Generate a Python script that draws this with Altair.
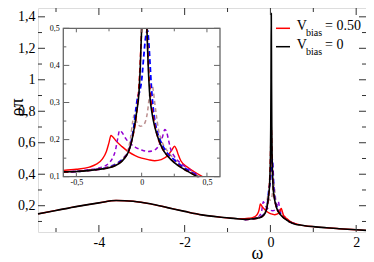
import altair as alt
import pandas as pd

# ---------------- data ----------------
# shared broad background (lower Hubbard band) outside the Kondo region
bg_left_w = [-5.42, -5.0, -4.5, -4.0, -3.6, -3.2, -2.8, -2.4, -2.0, -1.6, -1.2, -0.8]
bg_left_v = [0.148, 0.170, 0.196, 0.218, 0.233, 0.228, 0.212, 0.188, 0.164, 0.142, 0.128, 0.118]
bg_right_w = [0.7, 0.8, 1.0, 1.3, 1.6, 2.0, 2.37]
bg_right_v = [0.077, 0.073, 0.067, 0.060, 0.054, 0.047, 0.041]

black_w = [-0.6, -0.5, -0.4, -0.3, -0.25, -0.2, -0.15, -0.12, -0.1, -0.08, -0.06, -0.04, -0.02, -0.01,
           0.0, 0.008, 0.014, 0.02, 0.026, 0.032, 0.04, 0.05, 0.06, 0.08, 0.1, 0.13, 0.16, 0.2, 0.25,
           0.3, 0.35, 0.4, 0.43, 0.45, 0.5, 0.6]
black_v = [0.113, 0.114, 0.117, 0.121, 0.124, 0.13, 0.142, 0.155, 0.168, 0.19, 0.225, 0.27, 0.33, 0.4,
           0.5, 0.7, 1.0, 1.42, 1.0, 0.7, 0.5, 0.4, 0.33, 0.27, 0.235, 0.2, 0.175, 0.155, 0.138,
           0.125, 0.115, 0.105, 0.1, 0.097, 0.09, 0.081]

red_w = [-0.6, -0.5, -0.4, -0.35, -0.3, -0.27, -0.25, -0.235, -0.22, -0.2, -0.15, -0.1, -0.05, 0.0,
         0.05, 0.1, 0.15, 0.2, 0.23, 0.252, 0.265, 0.28, 0.3, 0.35, 0.4, 0.466, 0.5, 0.6]
red_v = [0.117, 0.12, 0.126, 0.133, 0.148, 0.168, 0.192, 0.211, 0.207, 0.198, 0.181, 0.167, 0.157, 0.15,
         0.146, 0.143, 0.146, 0.157, 0.171, 0.182, 0.175, 0.16, 0.143, 0.126, 0.114, 0.1, 0.094, 0.084]

reddash_w = [-0.6, -0.4, -0.3, -0.2, -0.15, -0.1, -0.07, -0.05, -0.03, -0.015, 0.0, 0.01, 0.02, 0.03,
             0.04, 0.055, 0.07, 0.09, 0.12, 0.16, 0.2, 0.3, 0.4, 0.435, 0.5, 0.6]
reddash_v = [0.112, 0.117, 0.121, 0.131, 0.143, 0.17, 0.205, 0.24, 0.3, 0.38, 0.5, 0.6, 0.7, 0.6,
             0.5, 0.38, 0.31, 0.26, 0.21, 0.175, 0.156, 0.126, 0.106, 0.1, 0.091, 0.082]

blue_w = [-0.6, -0.4, -0.3, -0.2, -0.15, -0.1, -0.08, -0.06, -0.045, -0.03, -0.015, 0.0, 0.015, 0.03,
          0.045, 0.055, 0.065, 0.075, 0.09, 0.11, 0.14, 0.18, 0.25, 0.3, 0.4, 0.44, 0.5, 0.6]
blue_v = [0.112, 0.117, 0.122, 0.133, 0.146, 0.17, 0.195, 0.235, 0.28, 0.315, 0.33, 0.36, 0.42, 0.475,
          0.495, 0.46, 0.4, 0.34, 0.28, 0.235, 0.2, 0.172, 0.145, 0.13, 0.108, 0.1, 0.092, 0.082]

rosy_w = [-0.6, -0.4, -0.3, -0.2, -0.15, -0.12, -0.1, -0.085, -0.07, -0.058, -0.045, -0.03, -0.01, 0.01,
          0.03, 0.045, 0.06, 0.072, 0.08, 0.09, 0.1, 0.115, 0.13, 0.15, 0.2, 0.25, 0.3, 0.4, 0.44, 0.5, 0.6]
rosy_v = [0.112, 0.117, 0.123, 0.135, 0.147, 0.16, 0.178, 0.205, 0.245, 0.266, 0.255, 0.242, 0.236, 0.238,
          0.25, 0.275, 0.32, 0.345, 0.347, 0.33, 0.3, 0.26, 0.225, 0.2, 0.168, 0.148, 0.132, 0.109, 0.1, 0.092, 0.082]

purple_w = [-0.6, -0.5, -0.4, -0.3, -0.25, -0.22, -0.2, -0.185, -0.168, -0.15, -0.12, -0.09, -0.05, 0.0,
            0.05, 0.1, 0.14, 0.16, 0.178, 0.19, 0.205, 0.22, 0.25, 0.3, 0.35, 0.4, 0.445, 0.5, 0.6]
purple_v = [0.113, 0.115, 0.119, 0.126, 0.137, 0.152, 0.172, 0.2, 0.225, 0.219, 0.202, 0.19, 0.18, 0.172,
            0.168, 0.172, 0.19, 0.208, 0.227, 0.222, 0.2, 0.177, 0.155, 0.136, 0.123, 0.111, 0.1, 0.093, 0.083]

main_x_major = [-4, -2, 0, 2]
main_x_minor = [-5, -3, -1, 1]
main_y_major = [0.2, 0.4, 0.6, 0.8, 1.0, 1.2, 1.4]
main_y_minor = [0.1, 0.3, 0.5, 0.7, 0.9, 1.1, 1.3]
inset_x_major = [-0.5, 0, 0.5]
inset_x_minor = [-0.25, 0.25]
inset_y_major = [0.1, 0.2, 0.3, 0.4, 0.5]
inset_y_minor = [0.15, 0.25, 0.35, 0.45]

legend_labels = ["= 0.50", "= 0"]

# ---------------- build table ----------------
rows = []
def add(name, ws, vs):
    for w, v in zip(ws, vs):
        rows.append({"s": name, "omega": w, "v": v})

add("red", bg_left_w + red_w + bg_right_w, bg_left_v + red_v + bg_right_v)
add("black", bg_left_w + black_w + bg_right_w, bg_left_v + black_v + bg_right_v)
add("reddash", reddash_w, reddash_v)
add("blue", blue_w, blue_v)
add("rosy", rosy_w, rosy_v)
add("purple", purple_w, purple_v)
df = pd.DataFrame(rows)

# ---------------- layout / style ----------------
W, H = 328, 224
SERIF = "Liberation Serif, Times New Roman, serif"
FRAME = "#333333"
IL, IR, IT, IB = 25.3, 182.0, 20.3, 168.7   # inset rectangle (plot coords)
INSET_C = "#666666"

XS = alt.Scale(domain=[-5.42, 2.229], nice=False, zero=False)
YS = alt.Scale(domain=[0.033, 1.456], nice=False, zero=False)
IXS = alt.Scale(domain=[-0.6, 0.6], range=[IL, IR], nice=False, zero=False)
IYS = alt.Scale(domain=[0.1, 0.5], range=[IB, IT], nice=False, zero=False)

styles = {
    "purple": ("#9400d3", 1.5, [4, 3]),
    "rosy": ("#bc8f8f", 1.5, [4, 3]),
    "blue": ("#0000ff", 1.8, [5, 3]),
    "reddash": ("#ff0000", 1.6, [5, 3]),
    "red": ("#ff0000", 1.4, None),
    "black": ("#000000", 1.6, None),
}

def line_kw(name):
    color, width, dash = styles[name]
    kw = dict(color=color, strokeWidth=width, interpolate="monotone")
    if dash:
        kw["strokeDash"] = dash
    return kw

one = pd.DataFrame({"k": [0]})
layers = []

# ---------------- main panel ----------------
for name in ["purple", "rosy", "blue", "reddash", "red", "black"]:
    if name == "black":
        xax = alt.Axis(orient="bottom", values=main_x_major, labelExpr="toString(datum.value)",
                       ticks=False, tickSize=0, domain=False, grid=False, labelPadding=3,
                       labelFontSize=14, labelFont=SERIF, labelColor="black", title="ω",
                       titleFont=SERIF, titleFontSize=18, titleFontWeight="normal", titleColor="black",
                       titleX=219, titleY=26, titleBaseline="alphabetic", titleAlign="center",
                       labelFlush=False, labelOverlap=False)
        yax = alt.Axis(orient="left", values=main_y_major,
                       labelExpr="replace(toString(datum.value), '.', ',')",
                       ticks=False, tickSize=0, domain=False, grid=False, labelPadding=3,
                       labelFontSize=14, labelFont=SERIF, labelColor="black", title="ρπ",
                       titleFont=SERIF, titleFontSize=18, titleFontWeight="normal", titleColor="black",
                       titleAngle=270, titleX=-21, titleY=99, titleAlign="center",
                       titleBaseline="middle", labelOverlap=False, labelFlush=False)
    else:
        xax = None
        yax = None
    layers.append(
        alt.Chart(df).transform_filter(alt.datum.s == name).mark_line(**line_kw(name)).encode(
            x=alt.X("omega:Q", scale=XS, axis=xax),
            y=alt.Y("v:Q", scale=YS, axis=yax),
        )
    )

def xticks(vals, scale, y0, length, color, width=1):
    return alt.Chart(pd.DataFrame({"t": vals})).mark_rule(color=color, strokeWidth=width).encode(
        x=alt.X("t:Q", scale=scale, axis=None), y=alt.value(y0), y2=alt.value(y0 + length))

def yticks(vals, scale, x0, length, color, width=1):
    return alt.Chart(pd.DataFrame({"t": vals})).mark_rule(color=color, strokeWidth=width).encode(
        y=alt.Y("t:Q", scale=scale, axis=None), x=alt.value(x0), x2=alt.value(x0 + length))

layers += [
    xticks(main_x_major, XS, H, -7, FRAME), xticks(main_x_minor, XS, H, -4, FRAME),
    xticks(main_x_major, XS, 0, 7, FRAME), xticks(main_x_minor, XS, 0, 4, FRAME),
    yticks(main_y_major, YS, 0, 7, FRAME), yticks(main_y_minor, YS, 0, 4, FRAME),
    yticks(main_y_major, YS, W, -7, FRAME), yticks(main_y_minor, YS, W, -4, FRAME),
]

# legend (manual, to allow the subscript)
def ltext(txt, x, y, size):
    return alt.Chart(one).mark_text(text=txt, align="left", baseline="alphabetic", font=SERIF,
                                    fontSize=size, color="black").encode(x=alt.value(x), y=alt.value(y))

def lline(color, y):
    return alt.Chart(one).mark_rule(color=color, strokeWidth=1.5).encode(
        x=alt.value(238), x2=alt.value(252), y=alt.value(y))

layers += [
    lline("#ff0000", 20.3), ltext("V", 258.7, 22, 14), ltext("bias", 268, 27.5, 10),
    ltext(legend_labels[0], 287, 22, 14),
    lline("#000000", 38.7), ltext("V", 258.7, 41, 14), ltext("bias", 268, 46.5, 10),
    ltext(legend_labels[1], 287, 41, 14),
]

# ---------------- inset ----------------
layers.append(alt.Chart(one).mark_rect(fill="white").encode(
    x=alt.value(IL), x2=alt.value(IR), y=alt.value(IT), y2=alt.value(IB)))

for name in ["red", "purple", "rosy", "blue", "reddash", "black"]:
    if name == "black":
        xax = alt.Axis(orient="bottom", offset=-(H - IB), values=inset_x_major,
                       labelExpr="replace(toString(datum.value), '.', ',')", ticks=False, tickSize=0,
                       domain=False, grid=False, labelPadding=2, labelFontSize=8, labelFont=SERIF,
                       labelColor="black", title="", labelFlush=False, labelOverlap=False)
        yax = alt.Axis(orient="left", offset=-IL, values=inset_y_major,
                       labelExpr="replace(toString(datum.value), '.', ',')", ticks=False, tickSize=0,
                       domain=False, grid=False, labelPadding=4, labelFontSize=8, labelFont=SERIF,
                       labelColor="black", title="", labelOverlap=False, labelFlush=False)
    else:
        xax = None
        yax = None
    layers.append(
        alt.Chart(df)
        .transform_filter(alt.datum.s == name)
        .transform_filter("datum.omega >= -0.6001 && datum.omega <= 0.6001")
        .transform_calculate(vin="(datum.v > 0.5 || datum.v < 0.1) ? null : datum.v")
        .mark_line(**line_kw(name))
        .encode(x=alt.X("omega:Q", scale=IXS, axis=xax), y=alt.Y("vin:Q", scale=IYS, axis=yax))
    )

layers += [
    xticks(inset_x_major, IXS, IB, -4, INSET_C), xticks(inset_x_minor, IXS, IB, -3, INSET_C),
    xticks(inset_x_major, IXS, IT, 4, INSET_C), xticks(inset_x_minor, IXS, IT, 3, INSET_C),
    yticks(inset_y_major, IYS, IL, 6, INSET_C), yticks(inset_y_minor, IYS, IL, 3, INSET_C),
    yticks(inset_y_major, IYS, IR, -6, INSET_C), yticks(inset_y_minor, IYS, IR, -3, INSET_C),
    alt.Chart(one).mark_rect(fillOpacity=0, stroke=INSET_C, strokeWidth=1.3).encode(
        x=alt.value(IL), x2=alt.value(IR), y=alt.value(IT), y2=alt.value(IB)),
]

chart = (
    alt.layer(*layers)
    .resolve_scale(x="independent", y="independent")
    .properties(width=W, height=H, autosize="none",
                padding={"left": 30, "top": 0, "right": 0, "bottom": 30})
    .configure_view(stroke=FRAME, strokeWidth=1.5)
    .configure_axis(labelFont=SERIF, titleFont=SERIF, labelColor="black", titleColor="black")
    .configure(background="white")
)

chart.save("out.html", embed_options={"renderer": "svg", "actions": False})
